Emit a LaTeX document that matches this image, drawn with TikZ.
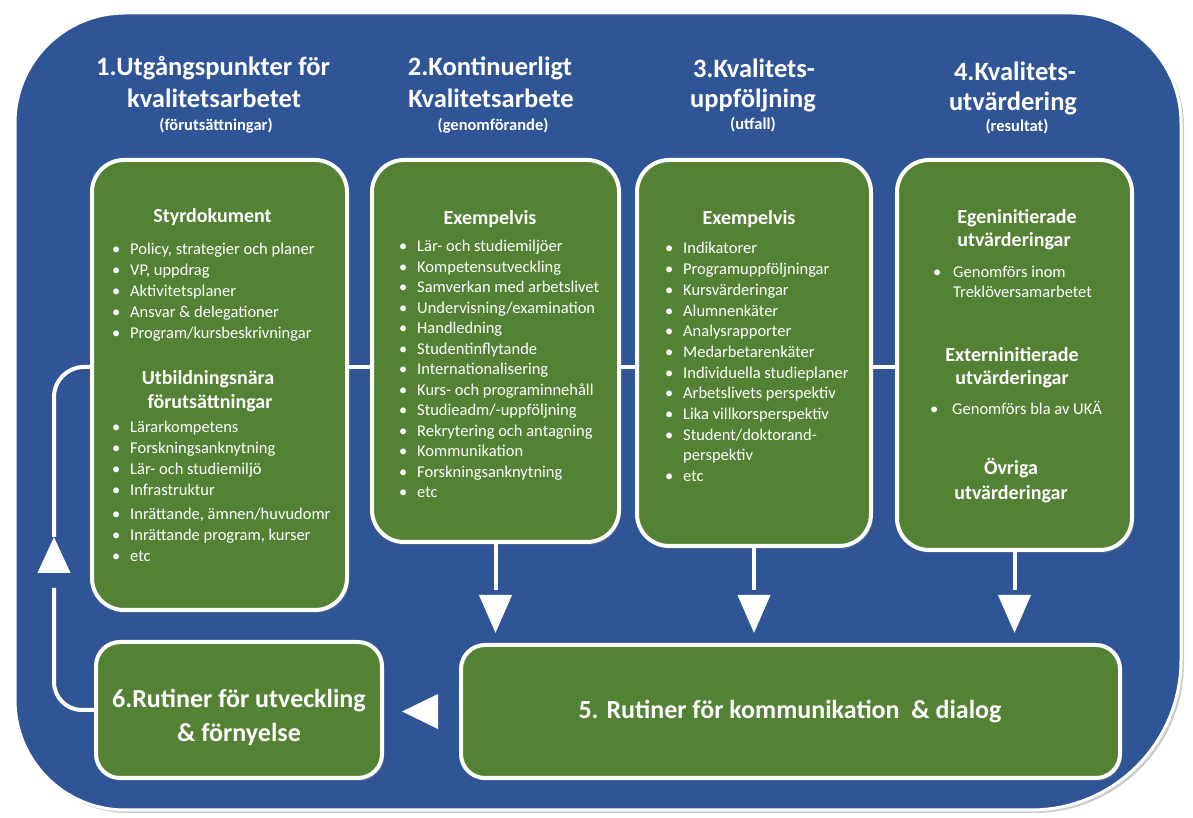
\documentclass[tikz,border=0pt]{standalone}
\usepackage{fontspec}
\setmainfont{Carlito}
\usetikzlibrary{arrows.meta,shadows}
\definecolor{bgblue}{RGB}{47,85,151}
\definecolor{boxgreen}{RGB}{84,130,53}
\newcommand\itmbul{\makebox[18pt][l]{\textbullet}}
\begin{document}
\begin{tikzpicture}[x=1pt,y=1pt,
  gbox/.style={draw=white, line width=4pt, fill=boxgreen, rounded corners=32pt, inner sep=0pt, outer sep=0pt,
    drop shadow={shadow xshift=2pt,shadow yshift=-3pt,opacity=0.35}},
  lowbox/.style={gbox, rounded corners=24pt},
  conn/.style={draw=white, line width=4pt},
  tiponly/.style={draw=white, line width=4pt, -{Triangle[width=32pt,length=38pt]}},
  ttl/.style={text=white, font=\fontsize{26.5}{32}\selectfont\bfseries, anchor=base, inner sep=0pt},
  subttl/.style={text=white, font=\fontsize{16.5}{18}\selectfont\bfseries, anchor=base, inner sep=0pt},
  hd/.style={text=white, font=\fontsize{20}{24}\selectfont\bfseries, anchor=base, inner sep=0pt},
  itm/.style={text=white, font=\fontsize{16.5}{20}\selectfont, anchor=base west, inner sep=0pt},
  big/.style={text=white, font=\fontsize{26}{34}\selectfont\bfseries, align=center, inner sep=0pt},
]
\useasboundingbox (0,0) rectangle (1193,818);
\fill[white] (0,0) rectangle (1193,818);
% background panel
\path[fill=bgblue, draw=white, line width=3pt, drop shadow={shadow xshift=3pt,shadow yshift=-3pt,opacity=0.4}]
  (15,695) arc[start angle=180,end angle=90,radius=110] -- (1071,805)
  arc[start angle=90,end angle=0,radius=110] -- (1181,158)
  arc[start angle=0,end angle=-90,radius=150] -- (125,8)
  arc[start angle=270,end angle=180,radius=110] -- cycle;

% titles
\node[ttl] (t1a) at (213,742) {1.Utgångspunkter för};
\node[ttl] (t1b) at (214,710) {kvalitetsarbetet};
\node[subttl] (t1c) at (216,687) {(förutsättningar)};
\node[ttl] (t2a) at (490,742) {2.Kontinuerligt};
\node[ttl] (t2b) at (491,710) {Kvalitetsarbete};
\node[subttl] (t2c) at (493,687) {(genomförande)};
\node[ttl] (t3a) at (754,740) {3.Kvalitets-};
\node[ttl] (t3b) at (753,710) {uppföljning};
\node[subttl] (t3c) at (753,688) {(utfall)};
\node[ttl] (t4a) at (1015,737) {4.Kvalitets-};
\node[ttl] (t4b) at (1013,707) {utvärdering};
\node[subttl] (t4c) at (1017,686) {(resultat)};

% reference coordinates
\coordinate (ly) at (0,451);
\coordinate (upapex) at (54,281);
\coordinate (upbase) at (54,245);
\coordinate (upline) at (54,230);

% boxes (positions)
\path (219.5,433) node[gbox, minimum width=255pt, minimum height=450pt] (b1) {};
\path (495.5,467) node[gbox, minimum width=247pt, minimum height=382pt] (b2) {};
\path (754,465) node[gbox, minimum width=234pt, minimum height=386pt] (b3) {};
\path (1014.5,463) node[gbox, minimum width=235pt, minimum height=390pt] (b4) {};
\path (239,108) node[lowbox, minimum width=286pt, minimum height=136pt] (b6) {};
\path (790.5,106.5) node[lowbox, minimum width=659pt, minimum height=133pt] (b5) {};

% connectors
\draw[conn] (b1.east |- ly) -- (b2.west |- ly);
\draw[conn] (b2.east |- ly) -- (b3.west |- ly);
\draw[conn] (b3.east |- ly) -- (b4.west |- ly);
% down arrows: stem, then separate head
\draw[conn, shorten >=55pt] (b2.south) -- (b2.south |- b5.north);
\draw[tiponly, shorten <=53pt, shorten >=12pt] (b2.south) -- (b2.south |- b5.north);
\draw[conn, shorten >=55pt] (b3.south) -- (b3.south |- b5.north);
\draw[tiponly, shorten <=49pt, shorten >=12pt] (b3.south) -- (b3.south |- b5.north);
\draw[conn, shorten >=55pt] (b4.south) -- (b4.south |- b5.north);
\draw[tiponly, shorten <=45pt, shorten >=12pt] (b4.south) -- (b4.south |- b5.north);
% left arrow head between 5 and 6
\draw[draw=white, line width=4pt, -{Triangle[width=34pt,length=36pt]}, shorten >=20pt, shorten <=23pt] (b5.west) -- (b5.west -| b6.east);
% feedback loop 6 -> 1
\draw[conn, rounded corners=28pt] (b6.west) -| (upline);
\draw[draw=white, line width=4pt, -{Triangle[width=32pt,length=36pt]}] (upbase) -- (upapex);
\draw[conn, rounded corners=30pt] (upapex) |- (b1.west |- ly);

% box 1 text
\node[hd] at (212.5,595.5) {Styrdokument};
\foreach \t [count=\i from 0] in {{Policy, strategier och planer}, {VP, uppdrag}, Aktivitetsplaner, Ansvar \& delegationer, Program/kursbeskrivningar}
  \node[itm] at (112,{563-20.8*\i}) {\itmbul\t};
\node[hd] at (208,433.5) {Utbildningsnära};
\node[hd] at (210,409.5) {förutsättningar};
\foreach \t [count=\i from 0] in {Lärarkompetens, Forskningsanknytning, Lär- och studiemiljö, Infrastruktur}
  \node[itm] at (112,{385-21*\i}) {\itmbul\t};
\foreach \t [count=\i from 0] in {{Inrättande, ämnen/huvudomr}, {Inrättande program, kurser}, etc}
  \node[itm] at (112,{298-21*\i}) {\itmbul\t};

% box 2 text
\node[hd] at (490,593.5) {Exempelvis};
\foreach \t [count=\i from 0] in {Lär- och studiemiljöer, Kompetensutveckling, Samverkan med arbetslivet, Undervisning/examination, Handledning, Studentinflytande, Internationalisering, Kurs- och programinnehåll, Studieadm/-uppföljning, Rekrytering och antagning, Kommunikation, Forskningsanknytning, etc}
  \node[itm] at (399,{566-20.5*\i}) {\itmbul\t};

% box 3 text
\node[hd] at (749,593.5) {Exempelvis};
\foreach \t [count=\i from 0] in {\itmbul Indikatorer, \itmbul Programuppföljningar, \itmbul Kursvärderingar, \itmbul Alumnenkäter, \itmbul Analysrapporter, \itmbul Medarbetarenkäter, \itmbul Individuella studieplaner, \itmbul Arbetslivets perspektiv, \itmbul Lika villkorsperspektiv, \itmbul Student/doktorand-, \hspace*{18pt}perspektiv, \itmbul etc}
  \node[itm] at (665,{564-20.7*\i}) {\t};

% box 4 text
\node[hd] at (1017,594.5) {Egeninitierade};
\node[hd] at (1014,571.5) {utvärderingar};
\node[itm] at (933,540) {\makebox[20pt][l]{\textbullet}Genomförs inom};
\node[itm] at (953,520) {Treklöversamarbetet};
\node[hd] at (1012,456.5) {Externinitierade};
\node[hd] at (1012,433.5) {utvärderingar};
\node[itm] at (930,403) {\makebox[22pt][l]{\textbullet}Genomförs bla av UKÄ};
\node[hd] at (1011,343.5) {Övriga};
\node[hd] at (1011,318.5) {utvärderingar};

% bottom texts
\node[big] at (239,101) {6.Rutiner för utveckling\\\& förnyelse};
\node[big] at (790,106) {5. Rutiner för kommunikation \ \& dialog};
\end{tikzpicture}
\end{document}
